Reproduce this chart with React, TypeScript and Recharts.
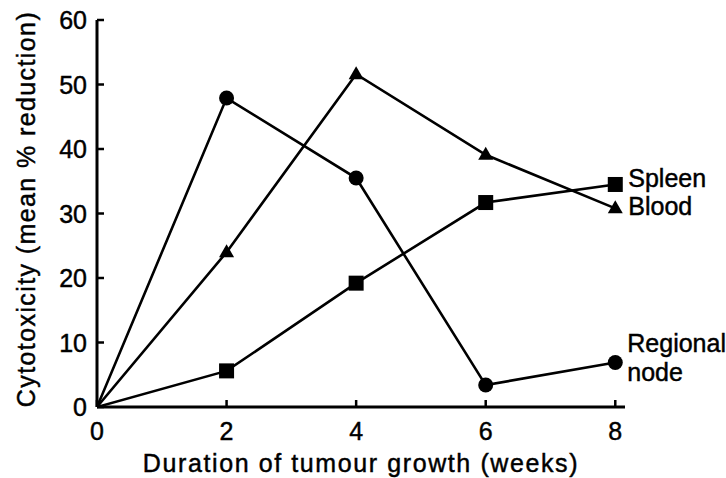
import React from 'react';
import { LineChart, Line, XAxis, YAxis, LabelList } from 'recharts';

const weeks = [0, 2, 4, 6, 8];
const regionalNode = [0, 47.9, 35.5, 3.4, 6.9];
const blood = [0, 24.0, 51.6, 39.1, 30.8];
const spleen = [0, 5.6, 19.2, 31.7, 34.5];
const xTicks = [0, 2, 4, 6, 8];
const yTicks = [0, 10, 20, 30, 40, 50, 60];
const seriesNames = { regional: 'Regional node', blood: 'Blood', spleen: 'Spleen' };
const xTitle = 'Duration of tumour growth (weeks)';
const yTitle = 'Cytotoxicity (mean % reduction)';

const data = weeks.map((w, i) => ({
  week: w,
  regional: regionalNode[i],
  blood: blood[i],
  spleen: spleen[i],
}));

const FONT = '"Liberation Sans", Arial, Helvetica, sans-serif';
const TXT = { fontFamily: FONT, fill: '#000', stroke: '#000', strokeWidth: 0.45 } as const;

const CircleDot = (props: any) => {
  const { cx, cy, index } = props;
  if (index === 0 || cx == null) return <g key={`c${index}`} />;
  return <circle key={`c${index}`} cx={cx} cy={cy} r={7.5} fill="#000" />;
};
const SquareDot = (props: any) => {
  const { cx, cy, index } = props;
  if (index === 0 || cx == null) return <g key={`s${index}`} />;
  return <rect key={`s${index}`} x={cx - 7.5} y={cy - 7.5} width={15} height={15} fill="#000" />;
};
const TriangleDot = (props: any) => {
  const { cx, cy, index } = props;
  if (index === 0 || cx == null) return <g key={`t${index}`} />;
  return (
    <polygon
      key={`t${index}`}
      points={`${cx},${cy - 8} ${cx + 7.5},${cy + 5} ${cx - 7.5},${cy + 5}`}
      fill="#000"
    />
  );
};

const XTick = (props: any) => {
  const { x, y, payload } = props;
  return (
    <g>
      <line x1={x} y1={y} x2={x} y2={y - 7} stroke="#000" strokeWidth={2.5} />
      <text x={x} y={y + 33} textAnchor="middle" fontSize={25} {...TXT}>
        {payload.value}
      </text>
    </g>
  );
};

const YTick = (props: any) => {
  const { x, y, payload } = props;
  return (
    <g>
      <line x1={x} y1={y} x2={x + 7} y2={y} stroke="#000" strokeWidth={2.5} />
      <text x={x - 10} y={y + 9} textAnchor="end" fontSize={25} {...TXT}>
        {payload.value}
      </text>
    </g>
  );
};

const makeEndLabel = (name: string, dy: number) => (props: any) => {
  const { x, y, index } = props;
  if (index !== weeks.length - 1) return null;
  return (
    <text x={x + 13} y={y + dy} fontSize={25} {...TXT}>
      {name}
    </text>
  );
};

const RegionalLabel = (props: any) => {
  const { x, y, index } = props;
  if (index !== weeks.length - 1) return null;
  const parts = seriesNames.regional.split(' ');
  return (
    <text x={x + 12} y={y - 10} fontSize={25} {...TXT}>
      <tspan x={x + 12} dy={0}>{parts[0]}</tspan>
      <tspan x={x + 12} dy={29}>{parts[1]}</tspan>
    </text>
  );
};

export default function App() {
  return (
    <div style={{ position: 'absolute', left: 0, top: 0, background: '#fff' }}>
      <LineChart
        width={726}
        height={478}
        data={data}
        margin={{ top: 20, right: 101, bottom: 0, left: 0 }}
      >
        <XAxis
          dataKey="week"
          type="number"
          domain={[0, 8.15]}
          ticks={xTicks}
          allowDataOverflow
          height={71}
          tickSize={0}
          tickMargin={0}
          tickLine={false}
          axisLine={{ stroke: '#000', strokeWidth: 3 }}
          tick={<XTick />}
          label={() => (
            <text x={361} y={472} textAnchor="middle" fontSize={25} letterSpacing={1.6} {...TXT}>
              {xTitle}
            </text>
          )}
        />
        <YAxis
          type="number"
          domain={[0, 60]}
          ticks={yTicks}
          width={97}
          tickSize={0}
          tickMargin={0}
          tickLine={false}
          axisLine={{ stroke: '#000', strokeWidth: 3 }}
          tick={<YTick />}
          label={() => (
            <text
              x={35}
              y={209}
              transform="rotate(-90 35 209)"
              textAnchor="middle"
              fontSize={25}
              letterSpacing={1.4}
              {...TXT}
            >
              {yTitle}
            </text>
          )}
        />
        <Line
          dataKey="regional"
          name={seriesNames.regional}
          stroke="#000"
          strokeWidth={2.6}
          isAnimationActive={false}
          dot={CircleDot}
          activeDot={false}
        >
          <LabelList dataKey="regional" content={RegionalLabel} />
        </Line>
        <Line
          dataKey="blood"
          name={seriesNames.blood}
          stroke="#000"
          strokeWidth={2.6}
          isAnimationActive={false}
          dot={TriangleDot}
          activeDot={false}
        >
          <LabelList dataKey="blood" content={makeEndLabel(seriesNames.blood, 7)} />
        </Line>
        <Line
          dataKey="spleen"
          name={seriesNames.spleen}
          stroke="#000"
          strokeWidth={2.6}
          isAnimationActive={false}
          dot={SquareDot}
          activeDot={false}
        >
          <LabelList dataKey="spleen" content={makeEndLabel(seriesNames.spleen, 3)} />
        </Line>
      </LineChart>
    </div>
  );
}
